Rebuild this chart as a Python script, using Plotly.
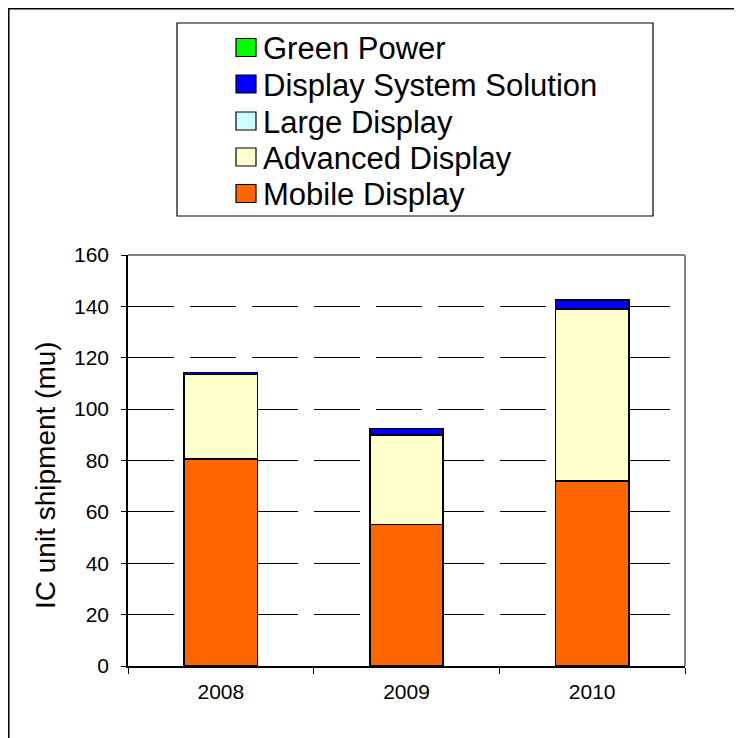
import plotly.graph_objects as go

# ---- data ----
years = ["2008", "2009", "2010"]
series_names = ["Mobile Display", "Advanced Display", "Large Display",
                "Display System Solution", "Green Power"]
mobile_display = [80.5, 55.0, 72.0]
advanced_display = [33.0, 35.0, 67.0]
large_display = [0, 0, 0]
display_system_solution = [0.7, 2.5, 3.4]
green_power = [0, 0, 0]
series_values = [mobile_display, advanced_display, large_display,
                 display_system_solution, green_power]
series_colors = ["#FF6600", "#FFFFCC", "#CCFFFF", "#0000FF", "#00FF00"]
y_ticks = [0, 20, 40, 60, 80, 100, 120, 140, 160]
y_title = "IC unit shipment (mu)"

# ---- geometry (screen pixels; page body has an 8px margin) ----
OFF = 8
W, H = 742 - OFF, 738 - OFF
PLOT_L, PLOT_R, PLOT_T, PLOT_B = 128, 685, 255, 666   # screen px
ML = PLOT_L - OFF
MT = PLOT_T - OFF
MR = W - (PLOT_R - OFF)
MB = H - (PLOT_B - OFF)
PW, PH = PLOT_R - PLOT_L, PLOT_B - PLOT_T


def px(x):
    return (x - PLOT_L) / PW


def py(y):
    return (PLOT_B - y) / PH


FONT = "Liberation Sans, Arial, sans-serif"

fig = go.Figure()
for name, vals, col in zip(series_names, series_values, series_colors):
    fig.add_trace(go.Bar(
        x=years, y=vals, name=name, width=0.395,
        marker=dict(color=col, line=dict(color="black", width=1.5)),
        showlegend=False,
    ))

shapes = []
# outer chart frame
shapes.append(dict(type="rect", xref="paper", yref="paper",
                   x0=px(8.8), x1=px(800), y0=py(800), y1=py(8.8),
                   line=dict(color="black", width=1.5), layer="below"))
# plot area top/right border (gray)
shapes.append(dict(type="line", xref="paper", yref="paper",
                   x0=0, x1=1, y0=1, y1=1,
                   line=dict(color="#808080", width=2)))
shapes.append(dict(type="line", xref="paper", yref="paper",
                   x0=1, x1=1, y0=0, y1=1,
                   line=dict(color="#808080", width=2)))
# legend box
shapes.append(dict(type="rect", xref="paper", yref="paper",
                   x0=px(177), x1=px(653), y0=py(216), y1=py(23),
                   line=dict(color="black", width=1.2), fillcolor="white"))

annotations = []
row_centers = [47.5, 84, 121, 157, 193.5]
for i, (name, col) in enumerate(zip(reversed(series_names), reversed(series_colors))):
    cy = row_centers[i]
    shapes.append(dict(type="rect", xref="paper", yref="paper",
                       x0=px(236), x1=px(256), y0=py(cy + 9), y1=py(cy - 9),
                       line=dict(color="black", width=1.2), fillcolor=col))
    annotations.append(dict(xref="paper", yref="paper", x=px(261), y=py(cy + 1),
                            xanchor="left", yanchor="middle", showarrow=False,
                            text=name, font=dict(family=FONT, size=31, color="black")))

annotations.append(dict(xref="paper", yref="paper", x=px(45), y=py(475),
                        xanchor="center", yanchor="middle", showarrow=False,
                        textangle=-90, text=y_title,
                        font=dict(family=FONT, size=28, color="black")))

fig.update_layout(
    width=W, height=H,
    margin=dict(l=ML, r=MR, t=MT, b=MB, pad=0),
    paper_bgcolor="white", plot_bgcolor="white",
    barmode="stack",
    shapes=shapes,
    annotations=annotations,
    font=dict(family=FONT, color="black"),
    xaxis=dict(
        type="category", showline=True, linecolor="black", linewidth=1.5,
        ticks="outside", ticklen=6, tickcolor="black", tickwidth=1.2,
        tickson="boundaries", showgrid=False,
        tickfont=dict(family=FONT, size=21, color="black"),
        ticklabelstandoff=6,
    ),
    yaxis=dict(
        range=[0, 160], tickvals=y_ticks, showline=True, linecolor="black",
        linewidth=1.5, ticks="outside", ticklen=5, tickcolor="black",
        tickwidth=1.2, showgrid=True, gridcolor="black", gridwidth=1,
        griddash="46px,16px", zeroline=False,
        tickfont=dict(family=FONT, size=21, color="black"),
        ticklabelstandoff=8,
    ),
)

fig.write_html("out.html")
